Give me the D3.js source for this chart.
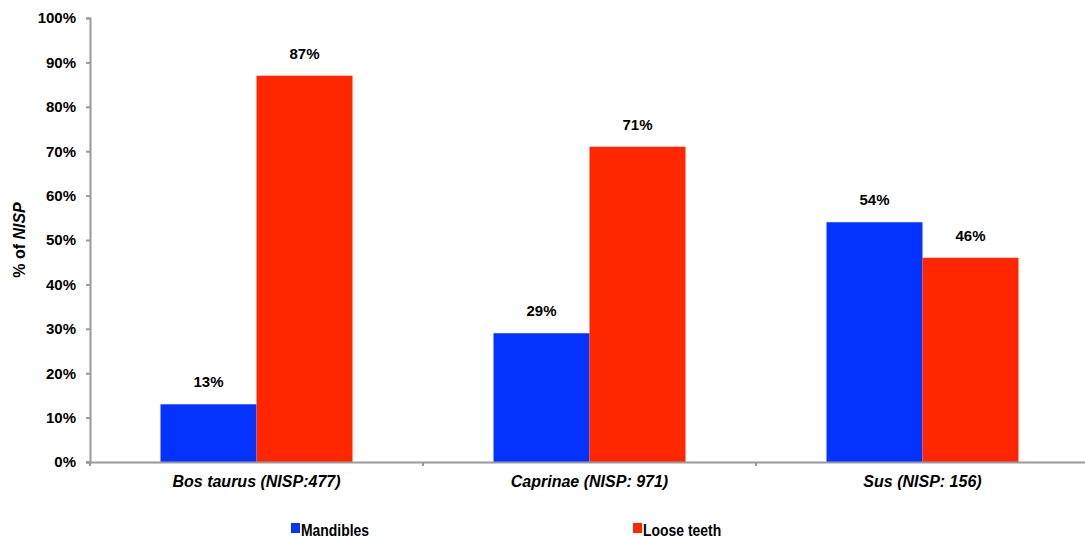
<!DOCTYPE html>
<html>
<head>
<meta charset="utf-8">
<script src="https://cdn.jsdelivr.net/npm/d3@7"></script>
<style>
  body { margin: 0; background: #fff; overflow: hidden; }
  text { font-family: "Liberation Sans", Arial, sans-serif; font-weight: bold; fill: #000; }
</style>
</head>
<body>
<div id="chart"></div>
<script>
var categories = ["Bos taurus (NISP:477)", "Caprinae (NISP: 971)", "Sus (NISP: 156)"];
var seriesNames = ["Mandibles", "Loose teeth"];
var mandibles = [13, 29, 54];
var looseTeeth = [87, 71, 46];
var yTicks = [0, 10, 20, 30, 40, 50, 60, 70, 80, 90, 100];
var colors = ["#0433FF", "#FF2600"];

var svgWidth = 1085;
var svgHeight = 538;
var margin = { top: 18, bottom: 76, left: 90 };
var width = 999;
var height = svgHeight - margin.top - margin.bottom;

var svg = d3.select("#chart")
  .append("svg")
  .attr("width", svgWidth)
  .attr("height", svgHeight);

var chartGroup = svg.append("g")
  .attr("transform", `translate(${margin.left}, ${margin.top})`);

var xScale = d3.scaleBand()
  .domain(categories)
  .range([0, width]);

var xInner = d3.scaleBand()
  .domain(seriesNames)
  .range([0, 192]);

var yScale = d3.scaleLinear()
  .domain([0, 100])
  .range([height, 0]);

// y axis
var yAxis = d3.axisLeft(yScale)
  .tickValues(yTicks)
  .tickSize(4)
  .tickFormat(d => d + "%");

var yG = chartGroup.append("g").call(yAxis);
yG.select(".domain").attr("stroke", "#999").attr("stroke-width", 2);
yG.selectAll(".tick line").attr("stroke", "#999").attr("stroke-width", 2);
yG.selectAll(".tick text")
  .attr("x", -14)
  .style("font-size", "15px")
  .style("font-weight", "bold")
  .style("font-family", "Liberation Sans, Arial, sans-serif");

// bars
var rows = categories.map((c, i) => ({ cat: c, values: [mandibles[i], looseTeeth[i]] }));

var groups = chartGroup.selectAll(".grp")
  .data(rows)
  .enter()
  .append("g")
  .attr("transform", d => `translate(${xScale(d.cat) + (xScale.bandwidth() - 192) / 2}, 0)`);

groups.selectAll("rect")
  .data(d => d.values.map((v, j) => ({ name: seriesNames[j], value: v, j: j })))
  .enter()
  .append("rect")
  .attr("x", d => xInner(d.name))
  .attr("y", d => yScale(d.value))
  .attr("width", xInner.bandwidth())
  .attr("height", d => height - yScale(d.value))
  .attr("fill", d => colors[d.j]);

groups.selectAll(".lbl")
  .data(d => d.values.map((v, j) => ({ name: seriesNames[j], value: v })))
  .enter()
  .append("text")
  .attr("x", d => xInner(d.name) + xInner.bandwidth() / 2)
  .attr("y", d => yScale(d.value) - 17)
  .attr("text-anchor", "middle")
  .style("font-size", "15px")
  .text(d => d.value + "%");

// x axis
var xAxis = d3.axisBottom(xScale).tickSize(0).tickFormat("");
var xG = chartGroup.append("g")
  .attr("transform", `translate(0, ${height})`)
  .call(xAxis);
xG.select(".domain").attr("stroke", "#999").attr("stroke-width", 2);

var bounds = [0].concat(categories.map(c => xScale(c) + xScale.bandwidth()));
xG.selectAll(".sep")
  .data(bounds)
  .enter()
  .append("line")
  .attr("x1", d => d)
  .attr("x2", d => d)
  .attr("y1", 0)
  .attr("y2", 4)
  .attr("stroke", "#999")
  .attr("stroke-width", 2);
chartGroup.append("line")
  .attr("x1", -4).attr("x2", 0)
  .attr("y1", height).attr("y2", height)
  .attr("stroke", "#999").attr("stroke-width", 2);

chartGroup.selectAll(".catlbl")
  .data(categories)
  .enter()
  .append("text")
  .attr("x", d => xScale(d) + xScale.bandwidth() / 2)
  .attr("y", height + 25)
  .attr("text-anchor", "middle")
  .style("font-size", "16px")
  .style("font-style", "italic")
  .text(d => d);

// y title
var yTitle = svg.append("text")
  .attr("transform", "translate(25, 240) rotate(-90)")
  .attr("text-anchor", "middle")
  .style("font-size", "16px");
yTitle.append("tspan").text("% of ");
yTitle.append("tspan").style("font-style", "italic").text("NISP");

// legend
var legendX = [291, 633];
var legend = svg.selectAll(".leg")
  .data(seriesNames)
  .enter()
  .append("g")
  .attr("transform", (d, i) => `translate(${legendX[i]}, 523)`);
legend.append("rect")
  .attr("width", 9)
  .attr("height", 10)
  .attr("fill", (d, i) => colors[i]);
legend.append("text")
  .attr("x", 10)
  .attr("y", 12.5)
  .attr("transform", "scale(0.93, 1.05)")
  .attr("transform-origin", "10 12")
  .style("font-size", "15px")
  .text(d => d);
</script>
</body>
</html>
